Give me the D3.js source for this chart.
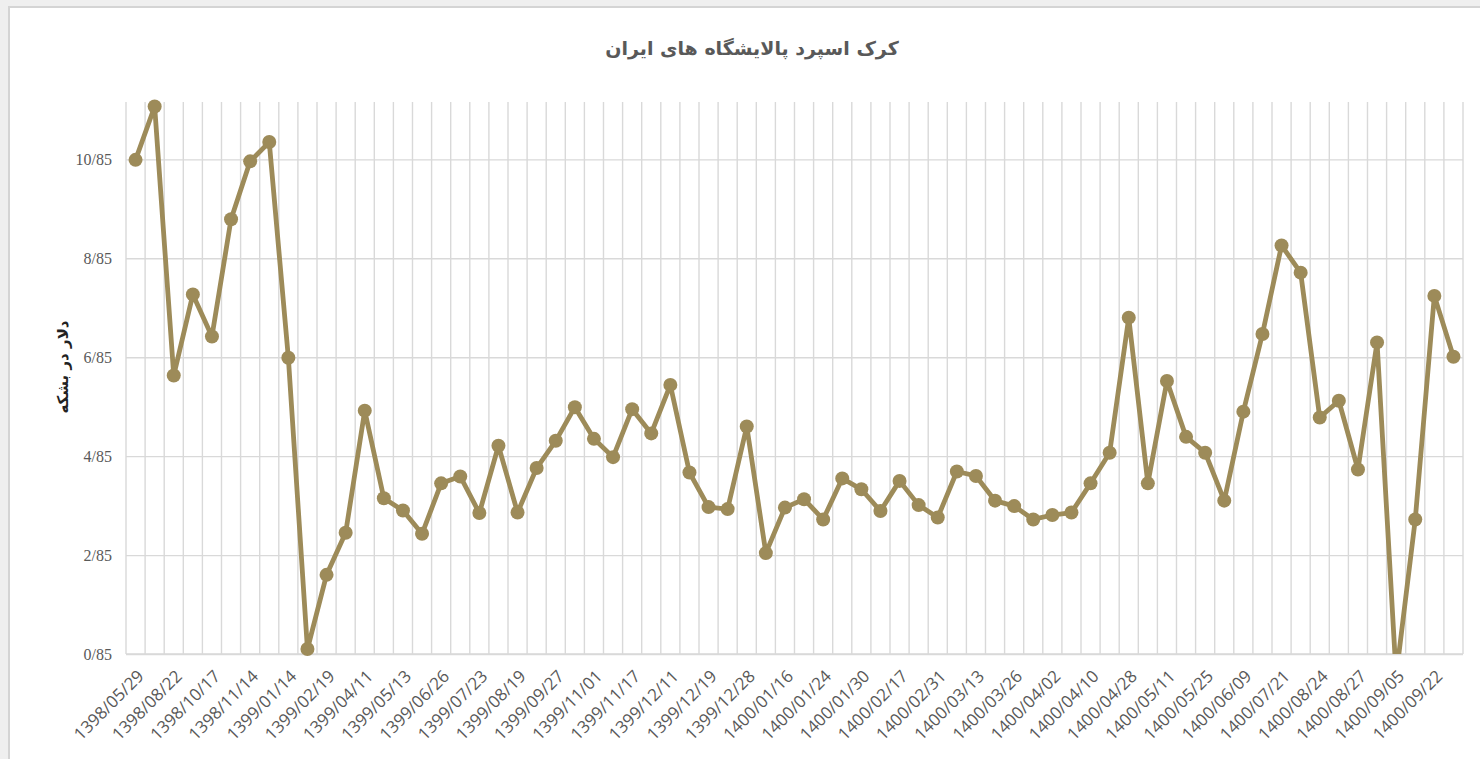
<!DOCTYPE html>
<html>
<head>
<meta charset="utf-8">
<script src="https://cdn.jsdelivr.net/npm/d3@7"></script>
<style>
  html, body { margin: 0; padding: 0; background: #efefef; }
  svg { display: block; }
</style>
</head>
<body>
<div id="chart"></div>
<script>
// crack spread of Iranian refineries, dollars per barrel
const chartTitle = "کرک اسپرد پالایشگاه های ایران";
const yTitle = "دلار در بشکه";

// only every second date is printed on the axis
const dateLabels = [
    "1398/05/29", "1398/08/22", "1398/10/17", "1398/11/14", "1399/01/14",
    "1399/02/19", "1399/04/11", "1399/05/13", "1399/06/26", "1399/07/23",
    "1399/08/19", "1399/09/27", "1399/11/01", "1399/11/17", "1399/12/11",
    "1399/12/19", "1399/12/28", "1400/01/16", "1400/01/24", "1400/01/30",
    "1400/02/17", "1400/02/31", "1400/03/13", "1400/03/26", "1400/04/02",
    "1400/04/10", "1400/04/28", "1400/05/11", "1400/05/25", "1400/06/09",
    "1400/07/21", "1400/08/24", "1400/08/27", "1400/09/05", "1400/09/22"
];

const spread = [
    10.84, 11.92, 6.48, 8.12, 7.27, 9.64, 10.81, 11.20, 6.84, 0.95,
    2.45, 3.30, 5.77, 4.00, 3.75, 3.28, 4.30, 4.44, 3.70, 5.06,
    3.71, 4.61, 5.16, 5.84, 5.20, 4.83, 5.80, 5.31, 6.29, 4.52,
    3.82, 3.78, 5.45, 2.89, 3.81, 3.98, 3.57, 4.40, 4.18, 3.74,
    4.35, 3.86, 3.61, 4.54, 4.45, 3.95, 3.84, 3.57, 3.66, 3.71,
    4.30, 4.92, 7.65, 4.30, 6.37, 5.24, 4.92, 3.95, 5.75, 7.32,
    9.11, 8.56, 5.63, 5.97, 4.58, 7.15, 0.40, 3.57, 8.09, 6.86
];

const yTicks = [0.85, 2.85, 4.85, 6.85, 8.85, 10.85];
const yMin = 0.85, yMax = 12.01;

const width = 1480, height = 759;
const plot = {left: 126, right: 1463, top: 102, bottom: 654};
const lineColor = "#9d8b59";
const gridColor = "#d9d9d9";
const textColor = "#595959";

const svg = d3.select("#chart").append("svg")
    .attr("width", width)
    .attr("height", height);

// chart area with its light border
svg.append("rect")
    .attr("x", 9).attr("y", 7)
    .attr("width", width).attr("height", height)
    .attr("fill", "#fff")
    .attr("stroke", "#d4d4d4")
    .attr("stroke-width", 2);

const x = d3.scaleBand()
    .domain(d3.range(spread.length))
    .range([plot.left, plot.right])
    .padding(0);

const y = d3.scaleLinear()
    .domain([yMin, yMax])
    .range([plot.bottom, plot.top]);

// horizontal gridlines
svg.append("g")
    .attr("transform", "translate(" + plot.left + ",0)")
    .call(d3.axisLeft(y).tickValues(yTicks).tickSize(-(plot.right - plot.left)).tickFormat(""))
    .call(g => g.select(".domain").remove())
    .call(g => g.selectAll("line").attr("stroke", gridColor).attr("stroke-width", 1.4));

// vertical gridlines on category boundaries
const bounds = d3.range(spread.length + 1).map(i => i < spread.length ? x(i) : x.range()[1]);
svg.append("g")
    .selectAll("line")
    .data(bounds)
    .enter()
    .append("line")
    .attr("x1", d => d).attr("x2", d => d)
    .attr("y1", plot.top).attr("y2", plot.bottom)
    .attr("stroke", gridColor)
    .attr("stroke-width", 1.4);

// bottom axis line
svg.append("line")
    .attr("x1", plot.left).attr("x2", plot.right)
    .attr("y1", plot.bottom).attr("y2", plot.bottom)
    .attr("stroke", gridColor)
    .attr("stroke-width", 1.6);

// y tick labels
svg.append("g")
    .attr("transform", "translate(" + plot.left + ",0)")
    .call(d3.axisLeft(y).tickValues(yTicks).tickSize(0).tickPadding(14)
        .tickFormat(d => d.toFixed(2).replace(".", "/")))
    .call(g => g.select(".domain").remove())
    .call(g => g.selectAll("text")
        .attr("fill", textColor)
        .style("font-family", "'Liberation Serif', serif")
        .style("font-size", "16px"));

// x tick labels, rotated
svg.append("g")
    .attr("transform", "translate(0," + plot.bottom + ")")
    .call(d3.axisBottom(x).tickValues(d3.range(0, spread.length, 2)).tickSize(0)
        .tickFormat(i => dateLabels[i / 2]))
    .call(g => g.select(".domain").remove())
    .call(g => g.selectAll("text")
        .attr("fill", textColor)
        .style("font-family", "'Open Sans', sans-serif")
        .style("font-size", "17px")
        .attr("text-anchor", "end")
        .attr("dy", "0.35em")
        .attr("transform", "translate(3,17) rotate(-45)"));

// line, clipped to the plot area like the original
svg.append("clipPath").attr("id", "plot-clip")
    .append("rect")
    .attr("x", plot.left - 10).attr("y", plot.top - 12)
    .attr("width", plot.right - plot.left + 20)
    .attr("height", plot.bottom - plot.top + 12);

const line = d3.line()
    .x((d, i) => x(i) + x.bandwidth() / 2)
    .y(d => y(d));

svg.append("path")
    .datum(spread)
    .attr("clip-path", "url(#plot-clip)")
    .attr("fill", "none")
    .attr("stroke", lineColor)
    .attr("stroke-width", 4.8)
    .attr("stroke-linejoin", "round")
    .attr("d", line);

// markers, only for points inside the axis range
svg.append("g")
    .selectAll("circle")
    .data(spread.map((v, i) => ({v: v, i: i})).filter(d => d.v >= yMin))
    .enter()
    .append("circle")
    .attr("cx", d => x(d.i) + x.bandwidth() / 2)
    .attr("cy", d => y(d.v))
    .attr("r", 7)
    .attr("fill", lineColor);

// titles
svg.append("text")
    .attr("x", 752).attr("y", 55)
    .attr("text-anchor", "middle")
    .attr("fill", textColor)
    .style("font-family", "'DejaVu Sans', sans-serif")
    .style("font-weight", "bold")
    .style("font-size", "19px")
    .text(chartTitle);

svg.append("text")
    .attr("transform", "translate(68,367) rotate(-90)")
    .attr("text-anchor", "middle")
    .attr("fill", "#222")
    .style("font-family", "'DejaVu Sans', sans-serif")
    .style("font-weight", "bold")
    .style("font-size", "15px")
    .text(yTitle);
</script>
</body>
</html>
